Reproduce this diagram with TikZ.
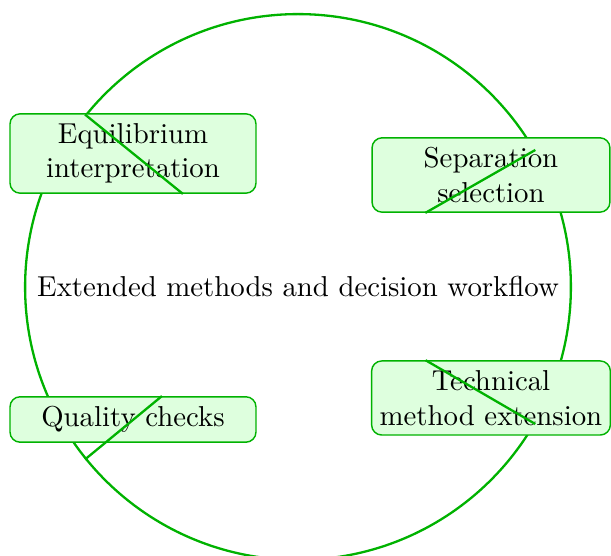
\documentclass[tikz,border=0pt]{standalone}
\begin{document}
\begin{tikzpicture}[x=0.3472pt,y=0.3472pt,line join=round,
  ring/.style={circle,draw=green!70!black,thick,minimum size=189.5pt,inner sep=1pt},
  topic/.style={draw=green!70!black,fill=green!13,rounded corners=3.5pt,align=center,line width=0.5pt},
  spoke/.style={green!70!black,thick}]
\useasboundingbox (-298,-269) rectangle (313,287);
\node[ring] (main) at (0,0) {Extended methods and decision workflow};
\node[topic,minimum width=85.4pt] (equi) at (-165,133.5) {Equilibrium\\interpretation};
\node[topic,minimum width=82.6pt] (sep) at (193,112) {Separation\\selection};
\node[topic,minimum width=82.6pt,inner xsep=2.8pt] (tech) at (193,-111) {Technical\\method extension};
\node[topic,minimum width=85.4pt] (qual) at (-165,-132.5) {Quality checks};
\draw[spoke](main.141)--(equi.-39);
\draw[spoke](main.30)--(sep.210);
\draw[spoke](main.-30)--(tech.150);
\draw[spoke](main.-141)--(qual.39);
\end{tikzpicture}
\end{document}
